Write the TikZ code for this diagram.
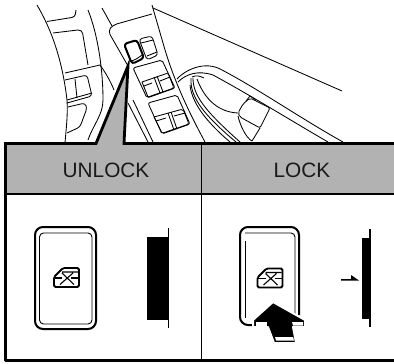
\documentclass[tikz,border=0pt]{standalone}
\usepackage{fontspec}
\setmainfont{Liberation Sans}
\begin{document}
\begin{tikzpicture}[x=1pt, y=-1pt, every node/.style={font=\fontsize{20.8}{22}\selectfont, text=black!90},
    sketch/.style={draw, line width=0.85pt, line join=round}, bold/.style={draw, line width=2pt, line join=round},
    frame/.style={draw, line width=2.8pt, line join=miter}, band/.style={fill=black!30},
    lockicon/.pic={
        \draw[line width=1.8pt, rounded corners=1.5pt] (0,9) -- (9,0) -- (25,0) -- (25,19) -- (0,19) -- cycle;
        \draw[line width=1.4pt] (0,10) -- (8,10) (17,10) -- (25,10);
        \draw[line width=1.1pt] (6,16.5) -- (19,5) (8,5) -- (20,16.5) (8,4) -- (24,4);
    }]
    \useasboundingbox (0,0) rectangle (394,364);

    \draw[sketch] (37,5) .. controls (50,27) and (62,57) .. (67,100) .. controls (68,115) and (66,130) .. (65,143);
    \draw[sketch, rounded corners=3pt] (47,21.5) -- (75,17) -- (76,10);
    \draw[sketch, rounded corners=4pt] (53,33) -- (82,29.5) -- (88,65);
    \draw[sketch] (65,73) -- (100,65) .. controls (105,72) and (110,80) .. (114,90);
    \draw[sketch] (88,10) .. controls (98,35) and (103,70) .. (103,100) .. controls (103,115) and (93,125) .. (88,140);
    \draw[sketch] (102,8) -- (112,26);
    \draw[sketch, rounded corners=3pt] (65,80) -- (87,75) -- (92,96) -- (67,103);
    \draw[sketch] (75,79) -- (77,98) (67,100) -- (92,93);
    \draw[sketch, rounded corners=3pt] (68,107) -- (85,103) -- (87,108) -- (80,127) -- (67,133);

    \draw[sketch, rounded corners=4pt] (128,66) -- (108,31) -- (113,25) -- (152,14);
    \draw[sketch] (133,100) -- (153,142) (128,103) -- (148,142);
    \draw[sketch] (152,5) -- (163,43) .. controls (172,75) and (185,105) .. (205,142);
    \draw[sketch] (153,8) -- (342,91);

    \draw[bold, rounded corners=3pt] (124,44) -- (137,40) -- (144,58) -- (132,64) -- cycle;
    \draw[sketch] (130,61) .. controls (134,61) and (138,58) .. (142,55);
    \draw[sketch, rounded corners=3pt] (139,39) -- (152,36) -- (158,55) -- (147,60) -- cycle;
    \draw[sketch] (141,43) -- (153,40) (147,56) -- (157,52);

    \draw[sketch, rounded corners=2pt] (133,68) -- (162,60) -- (175,88) -- (147,98) -- cycle;
    \draw[sketch, rounded corners=2pt] (142,82) -- (168,73) -- (174,88) -- (148,97);
    \draw[sketch] (142,82) -- (148,97) (154,77) -- (160,93) (157,76) -- (163,92) (144,86) -- (152,83) (160,81) -- (170,77);
    \draw[sketch, rounded corners=2pt] (148,103) -- (177,95) -- (190,124) -- (162,134) -- cycle;
    \draw[sketch, rounded corners=2pt] (154,117) -- (183,109) -- (189,124) -- (163,133);
    \draw[sketch] (154,117) -- (162,133) (168,113) -- (174,130) (171,112) -- (177,129) (156,121) -- (166,118) (174,116) -- (185,113);

    \draw[sketch] (177,79) .. controls (185,70) and (205,60) .. (222,70) .. controls (260,90) and (300,118) .. (343,142);
    \draw[sketch] (178,82) .. controls (186,74) and (198,70) .. (213,75) .. controls (250,95) and (290,120) .. (328,142);
    \draw[sketch] (191,78) .. controls (190,95) and (200,112) .. (236,142);
    \draw[sketch] (193,78) .. controls (193,95) and (204,110) .. (240,142);
    \draw[sketch] (190,85) .. controls (192,105) and (210,125) .. (230,142);
    \draw[sketch] (192,77) .. controls (196,75) and (200,76) .. (204,78);
    \draw[sketch] (197,79) .. controls (203,95) and (215,112) .. (238,113);
    \draw[sketch, rounded corners=2pt] (238,113) -- (243,104) -- (250,98) -- (270,108) -- (260,128) -- (240,117) -- cycle;
    \draw[sketch] (246,101) -- (250,96) -- (256,100);
    \draw[sketch] (238,116) .. controls (240,125) and (246,138) .. (252,141) (260,128) -- (252,141);

    \fill[band] (5,143.5) -- (96,143.5) -- (128,66) -- (124,143.5) -- (394,143.5) -- (394,194) -- (5,194) -- cycle;
    \draw[frame] (5.5,361) -- (5.5,143.5) -- (96,143.5) -- (128,66) -- (124,143.5) -- (394,143.5);
    \draw[line width=2pt] (5,194) -- (394,194);
    \draw[line width=2.2pt] (5,360.5) -- (394,360.5);
    \draw[line width=1.7pt] (201.5,143.5) -- (201.5,360);

    \node (unlock) at (106,170) {UNLOCK};
    \node (lock) at (302,170) {LOCK};

    \draw[line width=2pt, rounded corners=8pt] (35,227) rectangle (96,329);
    \draw[line width=0.9pt, rounded corners=4pt] (39.5,233) rectangle (92,324);
    \pic at (54,268) {lockicon};
    \fill (147,237) rectangle (168,320);
    \draw[line width=1.2pt] (168.5,228) -- (168.5,328);

    \draw[line width=2pt, rounded corners=8pt] (299,315) -- (299,227) -- (240,227) -- (240,325) -- (254,325);
    \draw[line width=0.9pt, rounded corners=4pt] (295,314) -- (295,233) -- (245,233);
    \draw[line width=0.9pt] (245,241) -- (245,318);
    \pic at (257.5,268.5) {lockicon};
    \fill[draw=white, line width=2pt, line join=round] (273,302) -- (305,320) -- (305,327) -- (293,327) -- (296,343) -- (274,343) -- (268,327) -- (253,327) -- (253,320) -- cycle;
    \fill[white] (256,322) -- (267,322) -- (267,325.5) -- (256,325.5) -- cycle;
    \fill[white] (292,322) -- (303,322) -- (303,325.5) -- (293,325.5) -- cycle;
    \fill[white] (275,337) -- (293,337) -- (294,340.5) -- (276,340.5) -- cycle;
    \fill (362,238) rectangle (370,319);
    \draw[line width=1.2pt] (370,229) -- (370,327);
    \fill (341,279) -- (351,279) -- (351,275) -- (359,280.5) -- (341,280.5) -- cycle;
\end{tikzpicture}
\end{document}
